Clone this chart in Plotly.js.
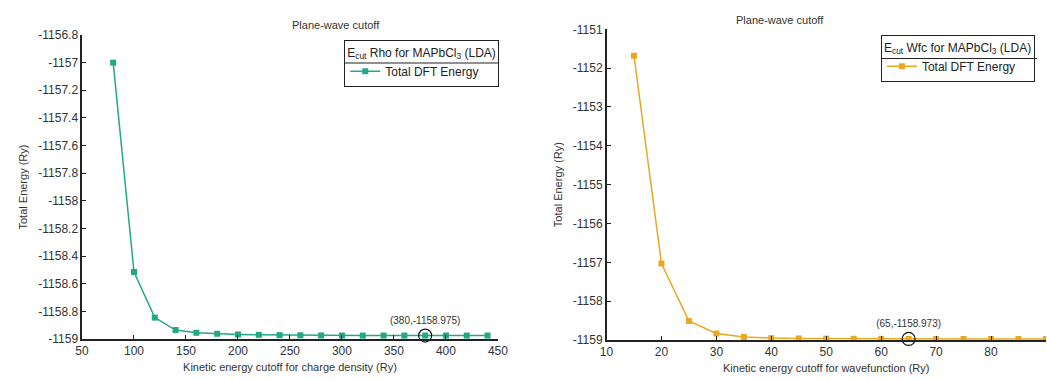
<!DOCTYPE html>
<html><head><meta charset="utf-8">
<script src="https://cdn.plot.ly/plotly-3.0.1.min.js"></script>
<style>html,body{margin:0;padding:0;background:#fff}#plot{width:1047px;height:381px}</style>
</head><body><div id="plot"></div>
<script>
// Left panel: charge density cutoff (Ry) vs total energy (Ry)
const rhoCutoff = [80,100,120,140,160,180,200,220,240,260,280,300,320,340,360,380,400,420,440];
const rhoEnergy = [-1157.0,-1158.515,-1158.845,-1158.935,-1158.955,-1158.962,-1158.967,-1158.970,-1158.972,-1158.973,-1158.974,-1158.975,-1158.975,-1158.975,-1158.975,-1158.975,-1158.975,-1158.975,-1158.975];
// Right panel: wavefunction cutoff (Ry) vs total energy (Ry)
const wfcCutoff = [15,20,25,30,35,40,45,50,55,60,65,70,75,80,85,90];
const wfcEnergy = [-1151.68,-1157.03,-1158.51,-1158.83,-1158.92,-1158.95,-1158.96,-1158.965,-1158.968,-1158.970,-1158.973,-1158.973,-1158.973,-1158.973,-1158.973,-1158.973];
// Highlighted converged points
const rhoPick = [380], rhoPickE = [-1158.975], rhoPickLabel = ['(380,-1158.975)'];
const wfcPick = [65], wfcPickE = [-1158.973], wfcPickLabel = ['(65,-1158.973)'];
// Y tick values and labels
const rhoYTicks = [-1159,-1158.8,-1158.6,-1158.4,-1158.2,-1158,-1157.8,-1157.6,-1157.4,-1157.2,-1157,-1156.8];
const rhoYLabels = ['-1159','-1158.8','-1158.6','-1158.4','-1158.2','-1158','-1157.8','-1157.6','-1157.4','-1157.2','-1157','-1156.8'];
const wfcYTicks = [-1159,-1158,-1157,-1156,-1155,-1154,-1153,-1152,-1151];
const wfcYLabels = ['-1159','-1158','-1157','-1156','-1155','-1154','-1153','-1152','-1151'];

const green = '#22a884', orange = '#e8a822';
const font = {family:'Liberation Sans, Arial, sans-serif', size:12, color:'#333'};

const traces = [
  {x:rhoCutoff, y:rhoEnergy, xaxis:'x', yaxis:'y', mode:'lines+markers', name:'Total DFT Energy',
   line:{color:green, width:1.5}, marker:{color:green, symbol:'square', size:6}, legend:'legend'},
  {x:wfcCutoff, y:wfcEnergy, xaxis:'x2', yaxis:'y2', mode:'lines+markers', name:'Total DFT Energy',
   line:{color:orange, width:1.5}, marker:{color:orange, symbol:'square', size:6}, legend:'legend2'},
  {x:rhoPick, y:rhoPickE, xaxis:'x', yaxis:'y', mode:'markers+text', text:rhoPickLabel, textposition:'top center',
   textfont:{size:10, color:'#333'}, showlegend:false, cliponaxis:false,
   marker:{symbol:'circle-open', size:13, color:'#111', line:{width:1.2}}},
  {x:wfcPick, y:wfcPickE, xaxis:'x2', yaxis:'y2', mode:'markers+text', text:wfcPickLabel, textposition:'top center',
   textfont:{size:10, color:'#333'}, showlegend:false, cliponaxis:false,
   marker:{symbol:'circle-open', size:13, color:'#111', line:{width:1.2}}}
];

const axisCommon = {showgrid:false, zeroline:false, showline:true, linecolor:'#222', linewidth:1.5,
  ticks:'inside', ticklen:4, tickcolor:'#222', tickfont:{size:12, color:'#333'}};

const layout = {
  width:1047, height:381, margin:{l:0,r:0,t:0,b:0},
  paper_bgcolor:'#fff', plot_bgcolor:'rgba(0,0,0,0)', font:font,
  xaxis:Object.assign({}, axisCommon, {domain:[0.0783,0.4756], range:[50,450], dtick:50, anchor:'y',
    title:{text:'Kinetic energy cutoff for charge density (Ry)', font:{size:11,color:'#333'}, standoff:6}}),
  yaxis:Object.assign({}, axisCommon, {domain:[0.1102,0.9081], range:[-1159,-1156.8], anchor:'x',
    tickmode:'array', tickvals:rhoYTicks, ticktext:rhoYLabels,
    title:{text:'Total Energy (Ry)', font:{size:11,color:'#333'}, standoff:8}}),
  xaxis2:Object.assign({}, axisCommon, {domain:[0.5793,0.999], range:[10,90], dtick:10, anchor:'y2',
    title:{text:'Kinetic energy cutoff for wavefunction (Ry)', font:{size:11,color:'#333'}, standoff:6}}),
  yaxis2:Object.assign({}, axisCommon, {domain:[0.1076,0.9231], range:[-1159,-1151], anchor:'x2',
    tickmode:'array', tickvals:wfcYTicks, ticktext:wfcYLabels,
    title:{text:'Total Energy (Ry)', font:{size:11,color:'#333'}, standoff:8}}),
  legend:{x:0.3286, y:0.895, xanchor:'left', yanchor:'top', bordercolor:'#222', borderwidth:1.2,
    bgcolor:'rgba(0,0,0,0)', font:{size:12,color:'#222'},
    title:{text:'E<sub>cut</sub> Rho for MAPbCl<sub>3</sub> (LDA)', font:{size:12,color:'#222'}, side:'top'}},
  legend2:{x:0.8412, y:0.908, xanchor:'left', yanchor:'top', bordercolor:'#222', borderwidth:1.2,
    bgcolor:'rgba(0,0,0,0)', font:{size:12,color:'#222'},
    title:{text:'E<sub>cut</sub> Wfc for MAPbCl<sub>3</sub> (LDA)', font:{size:12,color:'#222'}, side:'top'}},
  shapes:[
    {type:'line', layer:'above', xref:'paper', yref:'paper', x0:344/1047, x1:499/1047, y0:(381-63)/381, y1:(381-63)/381, line:{color:'#222', width:1.2}},
    {type:'line', layer:'above', xref:'paper', yref:'paper', x0:881/1047, x1:1037/1047, y0:(381-58.5)/381, y1:(381-58.5)/381, line:{color:'#222', width:1.2}}
  ],
  annotations:[
    {text:'Plane-wave cutoff', xref:'paper', yref:'paper', x:0.277, y:(381-17)/381, showarrow:false, font:{size:11,color:'#333'}},
    {text:'Plane-wave cutoff', xref:'paper', yref:'paper', x:0.789, y:(381-12)/381, showarrow:false, font:{size:11,color:'#333'}}
  ]
};

Plotly.newPlot('plot', traces, layout, {displayModeBar:false, staticPlot:true});
</script></body></html>
